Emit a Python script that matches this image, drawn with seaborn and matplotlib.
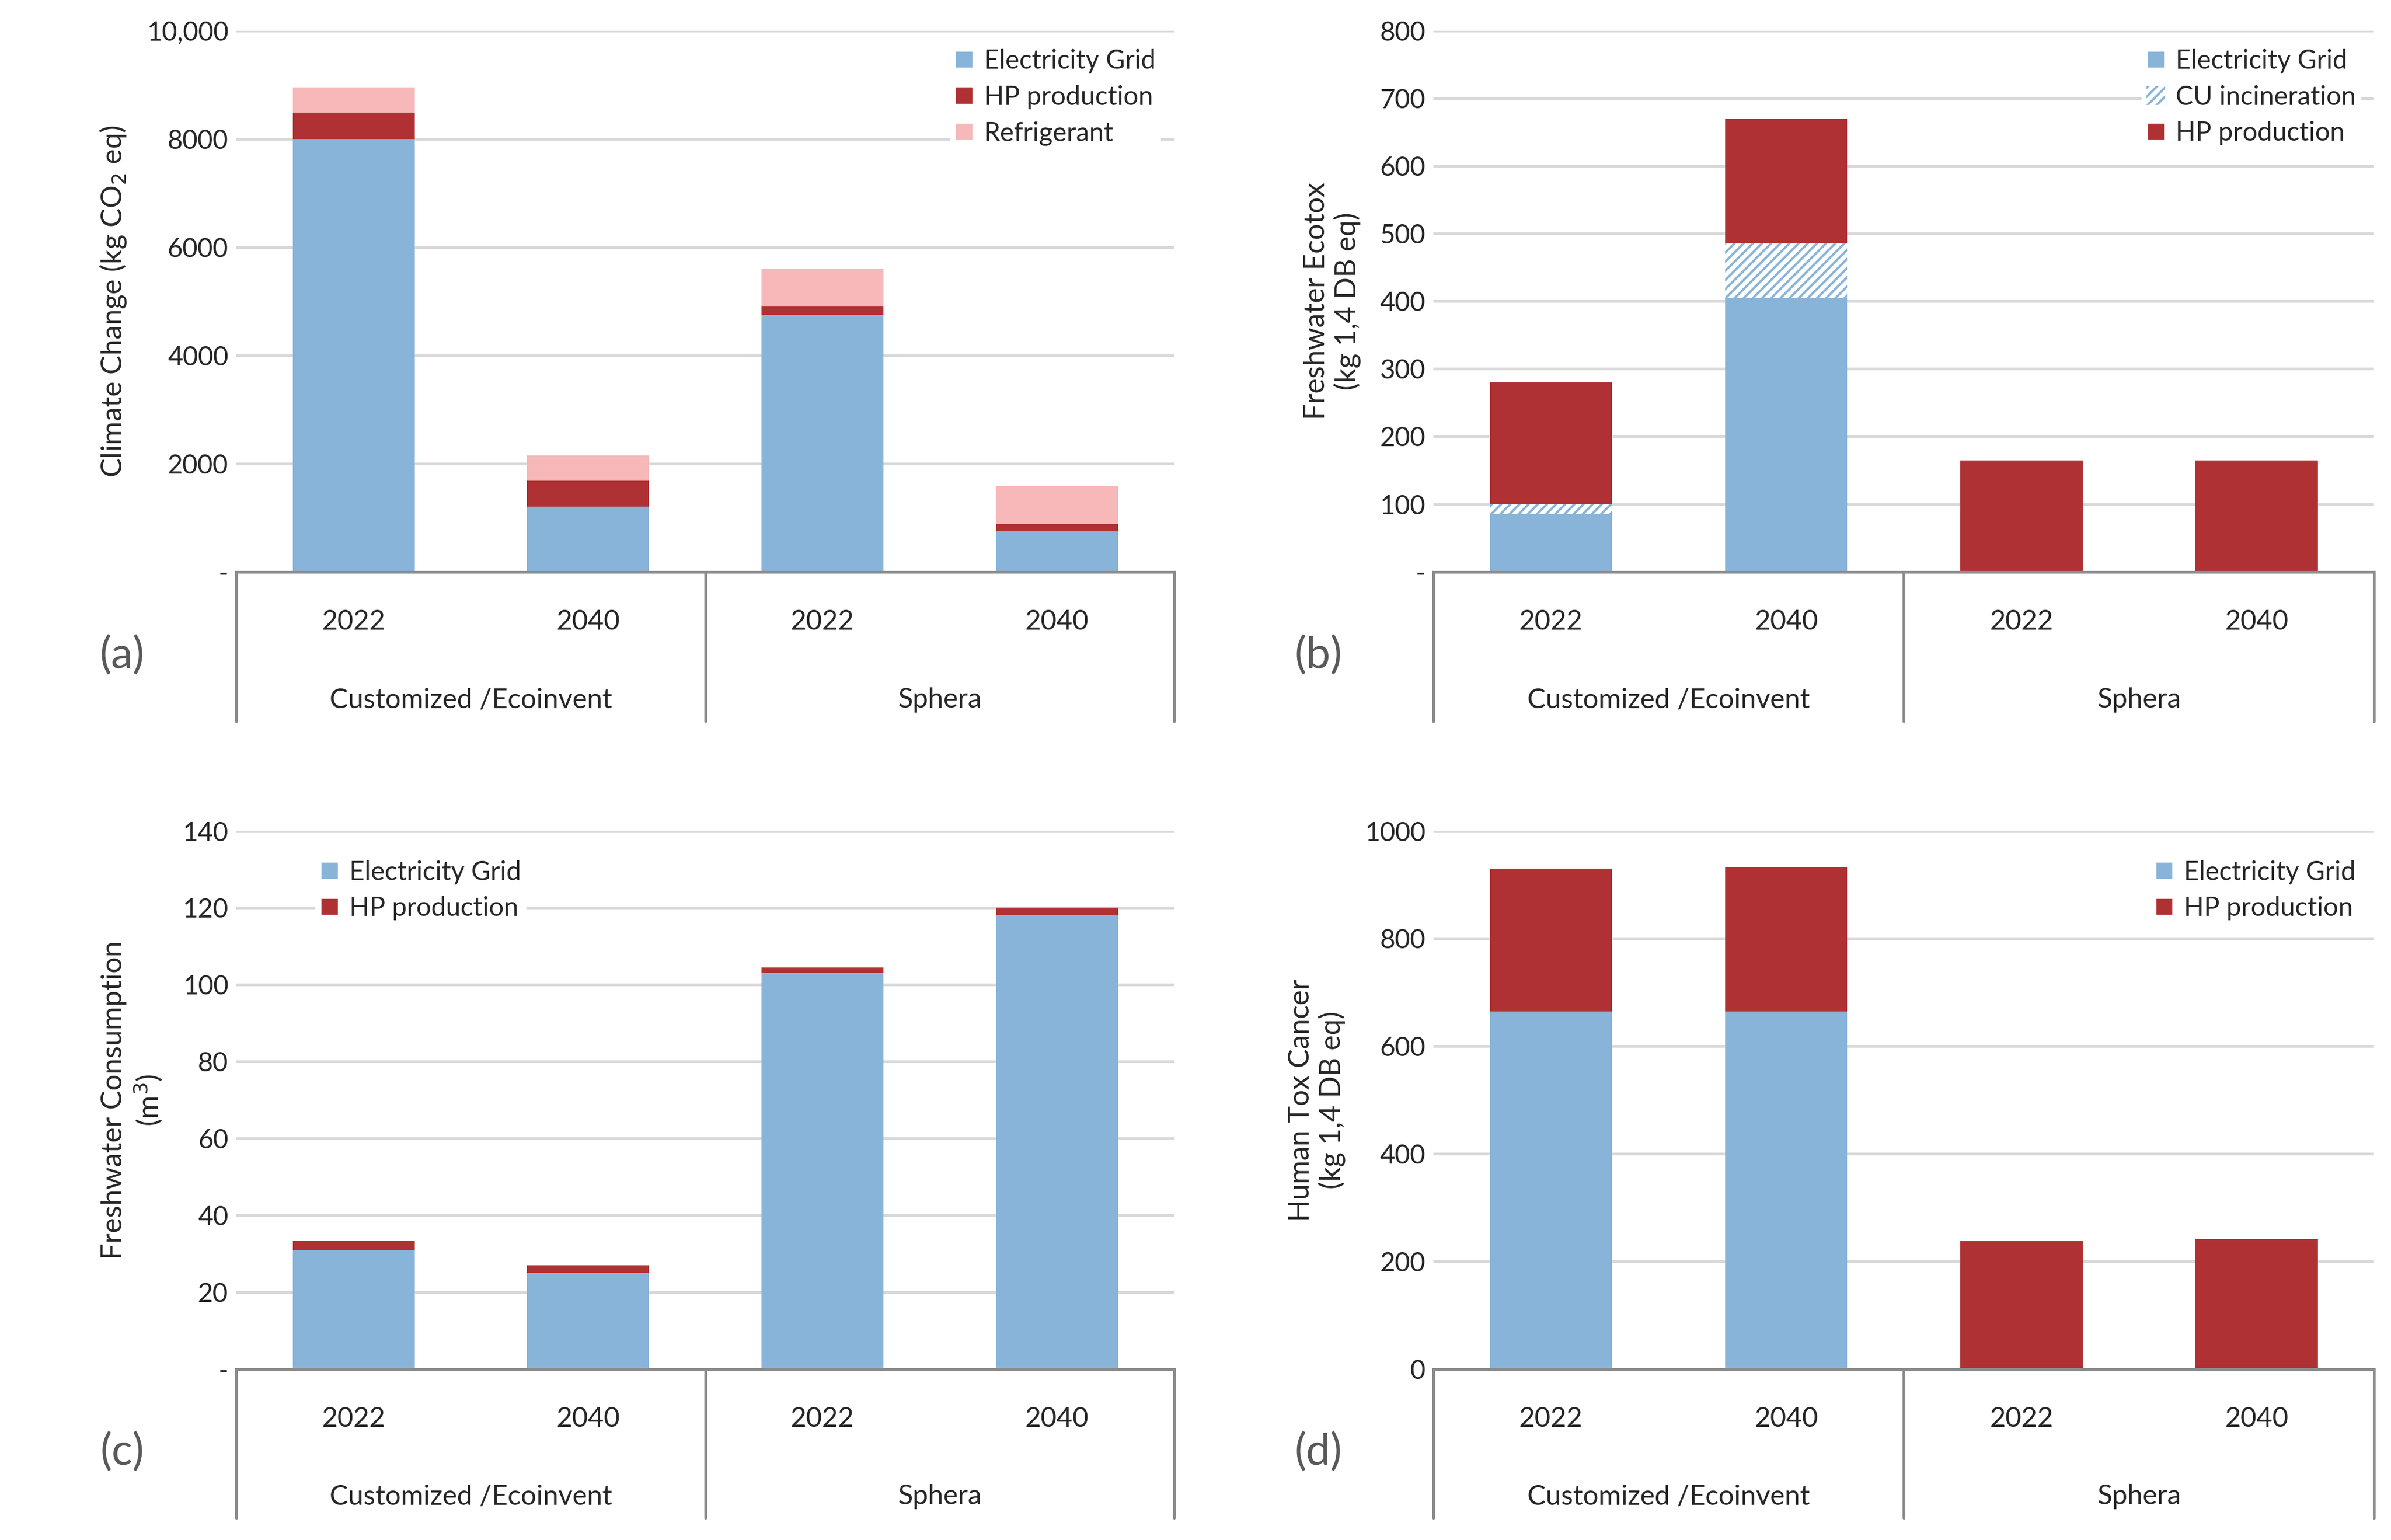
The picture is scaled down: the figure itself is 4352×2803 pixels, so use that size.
import matplotlib
matplotlib.use("Agg")
import matplotlib.pyplot as plt
import seaborn as sns
import pandas as pd
import numpy as np
from matplotlib.patches import Patch
from matplotlib.ticker import FuncFormatter

sns.set_style("white")
plt.rcParams['font.family'] = ['Lato', 'DejaVu Sans']

cats = ["C2022", "C2040", "S2022", "S2040"]
years = ["2022", "2040", "2022", "2040"]
groups = ["Customized /Ecoinvent", "Sphera"]

a_grid = [8000, 1200, 4750, 750]
a_hp = [480, 480, 150, 130]
a_ref = [470, 470, 700, 700]

b_grid = [85, 405, 0, 0]
b_cu = [15, 80, 0, 0]
b_hp = [180, 185, 165, 165]

c_grid = [31, 25, 103, 118]
c_hp = [2.5, 2, 1.5, 2]

d_grid = [665, 665, 0, 0]
d_hp = [265, 268, 238, 242]

BLUE = "#88B4DA"; RED = "#B03134"; PINK = "#F6B8B8"; GRAY = "#595959"

fig = plt.figure(figsize=(4352/300, 2803/300), dpi=300)
W, H = 1568, 1010
def axrect(l, r, t, b):
    return [l/W, 1-b/H, (r-l)/W, (b-t)/H]

axa = fig.add_axes(axrect(155, 770, 20, 375))
axb = fig.add_axes(axrect(940, 1557, 20, 375))
axc = fig.add_axes(axrect(155, 770, 545, 898))
axd = fig.add_axes(axrect(940, 1557, 545, 898))

def layers(ax, lays):
    # lays: list of (values, color, hatch) bottom->top ; draw cumulative from top down
    cum = np.cumsum(np.array([l[0] for l in lays], dtype=float), axis=0)
    for i in range(len(lays)-1, -1, -1):
        vals, col, hatch = lays[i]
        df = pd.DataFrame({"cat": cats, "v": cum[i]})
        kw = {}
        if hatch:
            kw = dict(hatch=hatch, edgecolor=BLUE, linewidth=0)
            sns.barplot(data=df, x="cat", y="v", order=cats, color="white", width=0.52,
                        ax=ax, saturation=1, **kw)
        else:
            sns.barplot(data=df, x="cat", y="v", order=cats, color=col, width=0.52,
                        ax=ax, saturation=1, linewidth=0)

def style(ax, ymax, step, ylabel, label, zero="-", comma=False):
    ax.set_ylim(0, ymax)
    ax.set_yticks(np.arange(0, ymax+1e-9, step))
    def fmt(v, p):
        if v == 0: return zero
        return f"{v:,.0f}" if comma else f"{v:.0f}"
    ax.yaxis.set_major_formatter(FuncFormatter(fmt))
    ax.grid(axis="y", color="#D9D9D9", linewidth=1.2)
    ax.set_axisbelow(True)
    for s in ["left", "top", "right"]:
        ax.spines[s].set_visible(False)
    ax.spines["bottom"].set_color("#8C8C8C"); ax.spines["bottom"].set_linewidth(1.2)
    ax.tick_params(axis="y", length=0, labelsize=11.5, colors="#262626")
    ax.set_xticks([])
    ax.set_xlabel("")
    ax.set_ylabel(ylabel, fontsize=12.5, color="#262626", labelpad=8)
    for i, y in enumerate(years):
        ax.text(i, -0.093, y, transform=ax.get_xaxis_transform(), ha="center", va="center",
                fontsize=12, color="#262626")
    for j, g in enumerate(groups):
        ax.text(0.5+2*j, -0.237, g, transform=ax.get_xaxis_transform(), ha="center", va="center",
                fontsize=12, color="#262626")
    for xf in [0, 0.5, 1]:
        ax.plot([xf, xf], [0, -0.276], transform=ax.transAxes, color="#8C8C8C", lw=1.2,
                clip_on=False)
    ax.text(-0.122, -0.155, label, transform=ax.transAxes, ha="center", va="center",
            fontsize=19, color=GRAY)
    ax.set_xlim(-0.5, 3.5)

def legend(ax, items, loc, anchor):
    handles = []
    for name, col, hatch in items:
        if hatch:
            handles.append(Patch(facecolor="white", edgecolor=BLUE, hatch=hatch, linewidth=0, label=name))
        else:
            handles.append(Patch(facecolor=col, label=name))
    leg = ax.legend(handles=handles, loc=loc, bbox_to_anchor=anchor, frameon=True,
                    fontsize=11.5, handlelength=0.7, handleheight=0.7, handletextpad=0.4,
                    labelspacing=0.45, borderpad=0.2, fancybox=False)
    leg.get_frame().set_edgecolor("none"); leg.get_frame().set_facecolor("white")
    leg.get_frame().set_alpha(1)
    for t in leg.get_texts(): t.set_color("#262626")

layers(axa, [(a_grid, BLUE, None), (a_hp, RED, None), (a_ref, PINK, None)])
style(axa, 10000, 2000, "Climate Change (kg CO$_2$ eq)", "(a)", comma=True)
axa.set_yticks(np.arange(0, 10001, 2000))
axa.yaxis.set_major_formatter(FuncFormatter(lambda v, p: "-" if v == 0 else ("10,000" if v == 10000 else f"{v:.0f}")))
legend(axa, [("Electricity Grid", BLUE, None), ("HP production", RED, None), ("Refrigerant", PINK, None)],
       "upper right", (1.0, 1.0))

layers(axb, [(b_grid, BLUE, None), (b_cu, None, "//////"), (b_hp, RED, None)])
style(axb, 800, 100, "Freshwater Ecotox\n(kg 1,4 DB eq)", "(b)")
legend(axb, [("Electricity Grid", BLUE, None), ("CU incineration", None, "//////"), ("HP production", RED, None)],
       "upper right", (1.0, 1.0))

layers(axc, [(c_grid, BLUE, None), (c_hp, RED, None)])
style(axc, 140, 20, "Freshwater Consumption\n(m$^3$)", "(c)")
legend(axc, [("Electricity Grid", BLUE, None), ("HP production", RED, None)],
       "upper left", (0.07, 0.98))

layers(axd, [(d_grid, BLUE, None), (d_hp, RED, None)])
style(axd, 1000, 200, "Human Tox Cancer\n(kg 1,4 DB eq)", "(d)", zero="0")
legend(axd, [("Electricity Grid", BLUE, None), ("HP production", RED, None)],
       "upper right", (1.0, 0.98))

plt.rcParams['hatch.linewidth'] = 1.5
fig.savefig("out.png", dpi=300)
